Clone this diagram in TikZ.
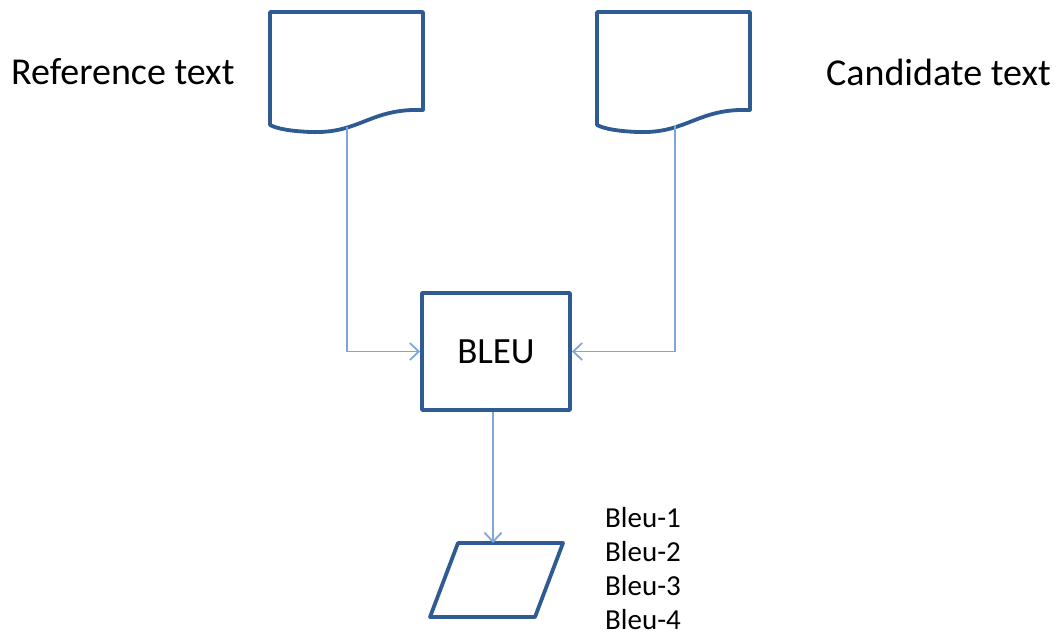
\documentclass[tikz,border=0pt]{standalone}
\usepackage{fontspec}
\setmainfont{Carlito}
\usetikzlibrary{arrows.meta}
\definecolor{shapeblue}{HTML}{2F5B93}
\definecolor{linkblue}{HTML}{7FA6DA}
\tikzset{
  shapeline/.style={draw=shapeblue, line width=3.8pt, line join=round},
  link/.style={draw=linkblue, line width=1.8pt, -{Straight Barb[length=9pt,width=17pt,line width=1.8pt]}},
  lbl/.style={inner sep=0pt, font=\fontsize{38}{43}\selectfont},
  outlbl/.style={inner sep=0pt, anchor=west, font=\fontsize{29}{33}\selectfont}
}
\begin{document}
\begin{tikzpicture}[x=1pt,y=-1pt]
\useasboundingbox (0,0) rectangle (1062,642);

% document shapes with wavy bottom edge
\draw[shapeline] (270,12) -- (423,12) -- (423,110)
  .. controls (370,108) and (360,134) .. (310,132)
  .. controls (290,131) and (278,129) .. (270,125) -- cycle;
\coordinate (refout) at (347,127);
\draw[shapeline] (597,12) -- (750,12) -- (750,110)
  .. controls (697,108) and (687,134) .. (637,132)
  .. controls (617,131) and (605,129) .. (597,125) -- cycle;
\coordinate (candout) at (675,125);

% labels beside the documents
\node[lbl, anchor=west] (reftext) at (11,72) {Reference text};
\node[lbl, anchor=east] (candtext) at (1051,72) {Candidate text};

% BLEU box
\node[shapeline, minimum width=148pt, minimum height=117pt, inner sep=0pt,
      font=\fontsize{37}{42}\selectfont] (bleu) at (496,351.5) {BLEU};

% output parallelogram
\draw[shapeline] (458,543) -- (563,543) -- (535,617) -- (430,617) -- cycle;
\coordinate (outtop) at (493,543);

% output scores
\node[outlbl] (b1) at (605,518) {Bleu-1};
\node[outlbl] (b2) at (605,552) {Bleu-2};
\node[outlbl] (b3) at (605,586) {Bleu-3};
\node[outlbl] (b4) at (605,620) {Bleu-4};

% connectors
\draw[link] (refout) |- (bleu.west);
\draw[link] (candout) |- (bleu.east);
\draw[link] (bleu.south -| outtop) -- (outtop);
\end{tikzpicture}
\end{document}
